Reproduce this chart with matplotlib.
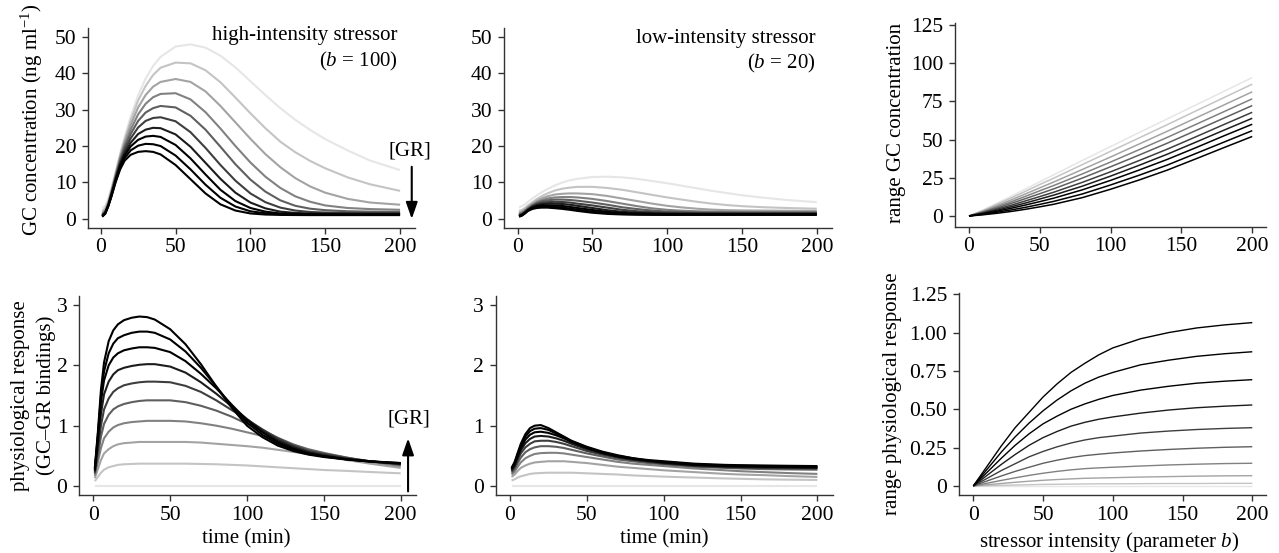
import matplotlib.pyplot as plt

plt.rcParams['font.family'] = ['Liberation Serif', 'DejaVu Serif']
plt.rcParams['mathtext.fontset'] = 'custom'
plt.rcParams['mathtext.rm'] = 'Liberation Serif'
plt.rcParams['mathtext.it'] = 'Liberation Serif:italic'
plt.rcParams['font.size'] = 15

# time points (min) for the left and middle columns
t_min = [1, 3, 5, 7, 10, 13, 16, 20, 25, 30, 35, 40, 50, 60, 70, 80, 90, 100,
         110, 120, 130, 140, 150, 165, 180, 200]

# GC concentration, high-intensity stressor (b = 100), GR increasing
gc_high = [
    [3.0, 3.6, 5.5, 8.3, 13.0, 18.0, 22.5, 28.0, 34.0, 38.5, 42.0, 44.5, 47.3, 47.9, 47.0, 44.8, 41.6, 37.8, 34.0, 30.4, 27.2, 24.4, 21.9, 18.8, 16.0, 13.4],
    [2.2, 2.9, 4.9, 7.8, 12.7, 17.6, 21.9, 27.0, 32.5, 36.5, 39.5, 41.5, 42.9, 42.7, 40.8, 37.5, 33.3, 29.0, 24.9, 21.2, 18.3, 15.9, 13.9, 11.4, 9.5, 7.7],
    [1.7, 2.4, 4.4, 7.4, 12.3, 17.1, 21.1, 25.8, 30.6, 34.0, 36.3, 37.6, 38.4, 37.6, 35.0, 31.0, 26.5, 22.0, 17.8, 14.2, 11.2, 8.9, 7.2, 5.5, 4.5, 3.9],
    [1.4, 2.1, 4.1, 7.1, 11.9, 16.6, 20.4, 24.5, 28.7, 31.6, 33.4, 34.3, 34.5, 32.8, 29.3, 24.8, 20.0, 15.5, 11.6, 8.5, 6.2, 4.7, 3.7, 3.0, 2.7, 2.5],
    [1.2, 1.9, 3.9, 6.9, 11.6, 16.1, 19.7, 23.3, 26.9, 29.2, 30.4, 31.0, 30.6, 28.3, 24.5, 19.8, 15.0, 10.8, 7.5, 5.1, 3.6, 2.8, 2.4, 2.1, 2.0, 1.9],
    [1.0, 1.8, 3.8, 6.7, 11.3, 15.6, 18.9, 22.1, 25.1, 26.9, 27.7, 27.9, 26.8, 23.8, 19.5, 14.8, 10.5, 7.0, 4.6, 3.1, 2.3, 1.9, 1.75, 1.65, 1.6, 1.6],
    [0.9, 1.7, 3.7, 6.5, 11.0, 15.1, 18.1, 20.9, 23.3, 24.5, 25.0, 24.9, 23.2, 19.8, 15.4, 11.0, 7.2, 4.5, 2.9, 2.0, 1.65, 1.5, 1.45, 1.4, 1.4, 1.4],
    [0.8, 1.6, 3.6, 6.3, 10.7, 14.6, 17.4, 19.9, 21.7, 22.6, 22.8, 22.5, 20.3, 16.6, 12.2, 8.0, 4.9, 3.0, 2.0, 1.5, 1.35, 1.3, 1.27, 1.25, 1.25, 1.25],
    [0.7, 1.5, 3.5, 6.1, 10.4, 14.1, 16.7, 18.8, 20.1, 20.6, 20.5, 20.0, 17.4, 13.6, 9.4, 5.8, 3.4, 2.1, 1.55, 1.3, 1.2, 1.15, 1.15, 1.15, 1.15, 1.15],
    [0.6, 1.4, 3.4, 5.9, 10.1, 13.6, 16.0, 17.6, 18.4, 18.6, 18.4, 17.7, 14.8, 10.9, 7.0, 4.0, 2.3, 1.5, 1.2, 1.1, 1.07, 1.05, 1.05, 1.05, 1.05, 1.05],
]

# GC concentration, low-intensity stressor (b = 20)
gc_low = [
    [3.2, 3.5, 4.0, 4.7, 5.6, 6.5, 7.3, 8.2, 9.2, 10.0, 10.6, 11.0, 11.5, 11.6, 11.4, 11.0, 10.4, 9.8, 9.1, 8.4, 7.7, 7.1, 6.5, 5.8, 5.2, 4.6],
    [2.2, 2.5, 3.0, 3.7, 4.6, 5.5, 6.2, 7.0, 7.8, 8.3, 8.6, 8.8, 8.8, 8.5, 8.0, 7.3, 6.6, 5.9, 5.3, 4.7, 4.2, 3.8, 3.5, 3.2, 3.0, 2.8],
    [1.7, 2.0, 2.6, 3.3, 4.2, 5.0, 5.6, 6.2, 6.7, 6.9, 7.0, 7.0, 6.8, 6.3, 5.6, 4.9, 4.2, 3.6, 3.15, 2.8, 2.55, 2.4, 2.33, 2.28, 2.24, 2.2],
    [1.4, 1.7, 2.3, 3.0, 3.9, 4.6, 5.1, 5.6, 5.9, 6.0, 6.0, 5.9, 5.5, 4.9, 4.2, 3.5, 2.9, 2.5, 2.25, 2.1, 2.0, 1.95, 1.92, 1.9, 1.9, 1.9],
    [1.2, 1.5, 2.1, 2.8, 3.7, 4.3, 4.8, 5.1, 5.3, 5.3, 5.2, 5.0, 4.5, 3.9, 3.2, 2.7, 2.3, 2.0, 1.88, 1.8, 1.77, 1.75, 1.72, 1.7, 1.7, 1.7],
    [1.0, 1.3, 1.9, 2.6, 3.5, 4.1, 4.4, 4.6, 4.7, 4.65, 4.5, 4.2, 3.7, 3.1, 2.5, 2.1, 1.85, 1.7, 1.64, 1.6, 1.57, 1.55, 1.55, 1.55, 1.55, 1.55],
    [0.9, 1.2, 1.8, 2.5, 3.3, 3.8, 4.05, 4.2, 4.2, 4.1, 3.9, 3.6, 3.0, 2.4, 1.95, 1.7, 1.55, 1.45, 1.42, 1.4, 1.4, 1.4, 1.4, 1.4, 1.4, 1.4],
    [0.8, 1.1, 1.7, 2.4, 3.1, 3.5, 3.7, 3.75, 3.7, 3.55, 3.3, 3.0, 2.45, 1.95, 1.6, 1.45, 1.38, 1.33, 1.31, 1.3, 1.3, 1.3, 1.3, 1.3, 1.3, 1.3],
    [0.7, 1.0, 1.6, 2.3, 2.9, 3.25, 3.38, 3.4, 3.3, 3.1, 2.85, 2.55, 2.0, 1.6, 1.37, 1.27, 1.23, 1.21, 1.2, 1.2, 1.2, 1.2, 1.2, 1.2, 1.2, 1.2],
    [0.6, 0.9, 1.5, 2.2, 2.75, 3.0, 3.1, 3.1, 2.95, 2.75, 2.5, 2.2, 1.7, 1.38, 1.22, 1.15, 1.12, 1.1, 1.1, 1.1, 1.1, 1.1, 1.1, 1.1, 1.1, 1.1],
]

# physiological response (GC-GR bindings), high-intensity stressor
resp_high = [
    [0.0] * 26,
    [0.08, 0.15, 0.22, 0.27, 0.31, 0.33, 0.35, 0.36, 0.365, 0.37, 0.37, 0.37, 0.37, 0.37, 0.365, 0.36, 0.35, 0.34, 0.325, 0.31, 0.295, 0.28, 0.265, 0.25, 0.232, 0.21],
    [0.13, 0.28, 0.43, 0.54, 0.61, 0.66, 0.69, 0.71, 0.72, 0.73, 0.73, 0.73, 0.73, 0.73, 0.72, 0.70, 0.68, 0.66, 0.635, 0.60, 0.565, 0.53, 0.49, 0.43, 0.37, 0.30],
    [0.17, 0.40, 0.63, 0.79, 0.90, 0.97, 1.01, 1.04, 1.06, 1.07, 1.08, 1.08, 1.08, 1.07, 1.04, 1.00, 0.95, 0.89, 0.83, 0.76, 0.685, 0.61, 0.55, 0.47, 0.40, 0.33],
    [0.20, 0.50, 0.82, 1.03, 1.18, 1.27, 1.32, 1.36, 1.39, 1.41, 1.42, 1.42, 1.42, 1.39, 1.33, 1.25, 1.15, 1.03, 0.92, 0.80, 0.69, 0.60, 0.54, 0.47, 0.41, 0.35],
    [0.22, 0.60, 1.00, 1.27, 1.45, 1.56, 1.62, 1.67, 1.70, 1.72, 1.73, 1.73, 1.72, 1.66, 1.56, 1.42, 1.26, 1.10, 0.94, 0.79, 0.67, 0.58, 0.53, 0.46, 0.41, 0.36],
    [0.24, 0.70, 1.20, 1.52, 1.73, 1.85, 1.92, 1.96, 1.99, 2.01, 2.02, 2.02, 1.98, 1.88, 1.72, 1.53, 1.32, 1.11, 0.92, 0.76, 0.645, 0.56, 0.51, 0.45, 0.41, 0.37],
    [0.26, 0.80, 1.40, 1.75, 2.00, 2.13, 2.20, 2.25, 2.28, 2.30, 2.30, 2.29, 2.22, 2.07, 1.86, 1.62, 1.35, 1.09, 0.89, 0.73, 0.62, 0.54, 0.495, 0.44, 0.405, 0.37],
    [0.28, 0.85, 1.50, 1.90, 2.20, 2.36, 2.45, 2.50, 2.54, 2.56, 2.56, 2.54, 2.43, 2.23, 1.96, 1.65, 1.33, 1.05, 0.85, 0.70, 0.60, 0.53, 0.49, 0.44, 0.405, 0.38],
    [0.30, 0.90, 1.60, 2.05, 2.40, 2.58, 2.68, 2.75, 2.79, 2.81, 2.80, 2.76, 2.60, 2.35, 2.02, 1.65, 1.30, 1.00, 0.81, 0.67, 0.58, 0.52, 0.48, 0.44, 0.41, 0.38],
]

# physiological response, low-intensity stressor
resp_low = [
    [0.0] * 26,
    [0.09, 0.11, 0.14, 0.16, 0.18, 0.20, 0.21, 0.215, 0.22, 0.22, 0.22, 0.22, 0.21, 0.20, 0.19, 0.175, 0.165, 0.155, 0.147, 0.14, 0.132, 0.125, 0.119, 0.11, 0.105, 0.10],
    [0.15, 0.19, 0.25, 0.30, 0.34, 0.37, 0.39, 0.40, 0.41, 0.41, 0.41, 0.40, 0.38, 0.35, 0.32, 0.30, 0.28, 0.26, 0.245, 0.23, 0.215, 0.20, 0.19, 0.18, 0.165, 0.15],
    [0.19, 0.24, 0.32, 0.39, 0.46, 0.50, 0.53, 0.545, 0.55, 0.55, 0.54, 0.52, 0.48, 0.44, 0.40, 0.37, 0.35, 0.33, 0.31, 0.29, 0.275, 0.26, 0.245, 0.23, 0.215, 0.20],
    [0.22, 0.28, 0.38, 0.47, 0.56, 0.61, 0.64, 0.66, 0.66, 0.65, 0.63, 0.60, 0.54, 0.49, 0.44, 0.41, 0.38, 0.36, 0.34, 0.32, 0.31, 0.30, 0.29, 0.28, 0.275, 0.27],
    [0.24, 0.31, 0.43, 0.54, 0.64, 0.70, 0.74, 0.75, 0.75, 0.73, 0.70, 0.66, 0.58, 0.52, 0.47, 0.43, 0.40, 0.37, 0.35, 0.33, 0.32, 0.31, 0.305, 0.30, 0.295, 0.29],
    [0.26, 0.34, 0.47, 0.59, 0.71, 0.78, 0.82, 0.83, 0.82, 0.79, 0.75, 0.70, 0.61, 0.54, 0.48, 0.44, 0.41, 0.38, 0.36, 0.34, 0.33, 0.32, 0.315, 0.31, 0.305, 0.30],
    [0.28, 0.36, 0.50, 0.63, 0.77, 0.85, 0.89, 0.90, 0.88, 0.84, 0.79, 0.73, 0.63, 0.55, 0.49, 0.45, 0.42, 0.39, 0.37, 0.35, 0.34, 0.33, 0.325, 0.32, 0.315, 0.31],
    [0.29, 0.38, 0.53, 0.67, 0.82, 0.91, 0.95, 0.96, 0.93, 0.87, 0.81, 0.74, 0.64, 0.56, 0.50, 0.46, 0.42, 0.40, 0.38, 0.36, 0.35, 0.34, 0.335, 0.33, 0.325, 0.32],
    [0.30, 0.40, 0.55, 0.70, 0.86, 0.96, 1.00, 1.01, 0.96, 0.89, 0.82, 0.75, 0.65, 0.57, 0.51, 0.46, 0.43, 0.41, 0.39, 0.37, 0.36, 0.35, 0.345, 0.34, 0.335, 0.33],
]

# stressor intensity (parameter b) for the right column
b_gc = [0, 10, 20, 30, 40, 50, 60, 80, 100, 120, 140, 160, 180, 200]
b_resp = [0, 10, 20, 30, 40, 50, 60, 70, 80, 90, 100, 120, 140, 160, 180, 200]

gc_range = [
    [0, 4.0, 8.5, 13.0, 17.7, 22.4, 27.0, 36.3, 45.4, 54.5, 63.5, 72.5, 81.5, 90.5],
    [0, 3.6, 7.8, 11.9, 16.2, 20.6, 24.8, 33.6, 42.3, 51.0, 59.7, 68.6, 77.4, 86.2],
    [0, 3.2, 6.9, 10.6, 14.5, 18.4, 22.3, 30.4, 38.6, 47.0, 55.4, 64.0, 72.6, 81.2],
    [0, 2.8, 6.1, 9.4, 12.9, 16.5, 20.0, 27.5, 35.3, 43.3, 51.4, 59.8, 68.2, 76.6],
    [0, 2.5, 5.3, 8.3, 11.4, 14.6, 17.8, 24.8, 32.2, 39.8, 47.6, 55.8, 64.0, 72.2],
    [0, 2.1, 4.6, 7.1, 9.9, 12.7, 15.6, 22.0, 28.9, 36.2, 43.7, 51.7, 59.8, 67.8],
    [0, 1.8, 3.9, 6.1, 8.5, 11.1, 13.7, 19.5, 26.1, 33.1, 40.4, 48.2, 56.1, 63.9],
    [0, 1.5, 3.2, 5.1, 7.2, 9.4, 11.7, 17.1, 23.3, 30.0, 37.0, 44.6, 52.4, 60.0],
    [0, 1.1, 2.5, 4.0, 5.7, 7.6, 9.6, 14.4, 20.3, 26.6, 33.3, 40.8, 48.3, 55.8],
    [0, 0.8, 1.8, 3.0, 4.4, 6.0, 7.7, 12.0, 17.5, 23.5, 30.0, 37.3, 44.7, 52.0],
]

resp_range = [
    [0.0] * 16,
    [0, 0.002, 0.004, 0.006, 0.008, 0.010, 0.011, 0.012, 0.013, 0.014, 0.014, 0.015, 0.016, 0.016, 0.017, 0.017],
    [0, 0.008, 0.016, 0.024, 0.031, 0.037, 0.042, 0.046, 0.050, 0.052, 0.054, 0.058, 0.061, 0.064, 0.066, 0.067],
    [0, 0.018, 0.036, 0.053, 0.069, 0.083, 0.095, 0.105, 0.113, 0.118, 0.122, 0.130, 0.137, 0.142, 0.146, 0.148],
    [0, 0.033, 0.065, 0.095, 0.122, 0.148, 0.168, 0.185, 0.198, 0.207, 0.215, 0.228, 0.238, 0.246, 0.252, 0.256],
    [0, 0.05, 0.10, 0.145, 0.19, 0.225, 0.255, 0.28, 0.30, 0.315, 0.325, 0.345, 0.358, 0.368, 0.375, 0.38],
    [0, 0.07, 0.14, 0.205, 0.265, 0.315, 0.355, 0.39, 0.415, 0.435, 0.45, 0.475, 0.495, 0.51, 0.52, 0.528],
    [0, 0.09, 0.18, 0.265, 0.34, 0.405, 0.455, 0.50, 0.535, 0.565, 0.59, 0.625, 0.65, 0.67, 0.683, 0.693],
    [0, 0.11, 0.22, 0.32, 0.41, 0.49, 0.56, 0.62, 0.67, 0.71, 0.74, 0.79, 0.82, 0.845, 0.862, 0.875],
    [0, 0.13, 0.26, 0.38, 0.48, 0.58, 0.665, 0.74, 0.80, 0.855, 0.90, 0.96, 1.00, 1.03, 1.05, 1.065],
]

# grey ramp, lightest = lowest [GR]
greys = ['#e6e6e6', '#c4c4c4', '#a3a3a3', '#818181', '#5f5f5f',
         '#3e3e3e', '#1c1c1c', '#000000', '#000000', '#000000']

fig = plt.figure(figsize=(12.79, 5.53), dpi=100)


def panel(rect, x, curves, xlim, ylim, yticks, lw, yticklabels=None):
    ax = fig.add_axes(rect)
    for i, ys in enumerate(curves):
        ax.plot(x, ys, color=greys[i], lw=lw, solid_capstyle='butt')
    ax.set_xlim(*xlim)
    ax.set_ylim(*ylim)
    ax.set_xticks([0, 50, 100, 150, 200])
    ax.set_yticks(yticks)
    if yticklabels is not None:
        ax.set_yticklabels(yticklabels)
    for s in ['top', 'right']:
        ax.spines[s].set_visible(False)
    for s in ['left', 'bottom']:
        ax.spines[s].set_color('#333333')
        ax.spines[s].set_linewidth(1.0)
    ax.tick_params(direction='out', length=4, width=1, color='#333333', labelsize=15.5)
    ax.tick_params(axis='x', pad=3.5)
    ax.tick_params(axis='y', pad=4.5)
    return ax


ax1 = panel([0.0688, 0.5883, 0.2557, 0.3611], t_min, gc_high, (-8.5, 210), (-2.4, 52.4),
            [0, 10, 20, 30, 40, 50], 1.5)
ax2 = panel([0.3941, 0.5883, 0.2562, 0.3611], t_min, gc_low, (-9, 210), (-2.4, 52.4),
            [0, 10, 20, 30, 40, 50], 1.5)
ax3 = panel([0.7469, 0.5895, 0.2427, 0.3684], b_gc, gc_range, (-9.7, 209.5), (-7.2, 126),
            [0, 25, 50, 75, 100, 125], 1.1)
ax4 = panel([0.0620, 0.1043, 0.2633, 0.3604], t_min, resp_high, (-9.1, 210), (-0.155, 3.15),
            [0, 1, 2, 3], 1.5)
ax5 = panel([0.3876, 0.1043, 0.2635, 0.3604], t_min, resp_low, (-9.3, 210), (-0.155, 3.15),
            [0, 1, 2, 3], 1.5)
ax6 = panel([0.7498, 0.1043, 0.2400, 0.3664], b_resp, resp_range, (-10.25, 209.8), (-0.061, 1.26),
            [0, 0.25, 0.5, 0.75, 1.0, 1.25], 1.0,
            ['0', '0.25', '0.50', '0.75', '1.00', '1.25'])

ax1.set_ylabel('GC concentration (ng ml$^{-1}$)')
ax1.yaxis.set_label_coords(-0.13, 0.54)
ax3.set_ylabel('range GC concentration')
ax3.yaxis.set_label_coords(-0.16, 0.51)
ax4.set_ylabel('physiological response\n(GC\u2013GR bindings)', linespacing=1.4)
ax4.yaxis.set_label_coords(-0.07, 0.5)
ax6.set_ylabel('range physiological response')
ax6.yaxis.set_label_coords(-0.185, 0.5)

ax4.set_xlabel('time (min)')
ax4.xaxis.set_label_coords(0.495, -0.17)
ax5.set_xlabel('time (min)')
ax5.xaxis.set_label_coords(0.5, -0.17)
ax6.set_xlabel('stressor intensity (parameter $b$)')
ax6.xaxis.set_label_coords(0.49, -0.17)

ax1.text(198.5, 49.0, 'high-intensity stressor', ha='right', va='baseline')
ax1.text(198.5, 41.7, '($b$ = 100)', ha='right', va='baseline')
ax2.text(198.9, 48.3, 'low-intensity stressor', ha='right', va='baseline')
ax2.text(198.9, 41.3, '($b$ = 20)', ha='right', va='baseline')

# [GR] arrows
arrow = dict(arrowstyle='-|>,head_length=1.0,head_width=0.35', color='black', lw=1.5,
             shrinkA=0, shrinkB=0, mutation_scale=10)
ax1.text(206.8, 17.5, '[GR]', ha='center', va='baseline', clip_on=False)
ax1.annotate('', xy=(207.8, 0), xytext=(207.8, 14.3), arrowprops=arrow, annotation_clip=False)
ax4.text(205.2, 1.03, '[GR]', ha='center', va='baseline', clip_on=False)
ax4.annotate('', xy=(204.8, 0.79), xytext=(204.8, -0.09), arrowprops=arrow, annotation_clip=False)

fig.savefig('out.png', dpi=100)
plt.close(fig)
